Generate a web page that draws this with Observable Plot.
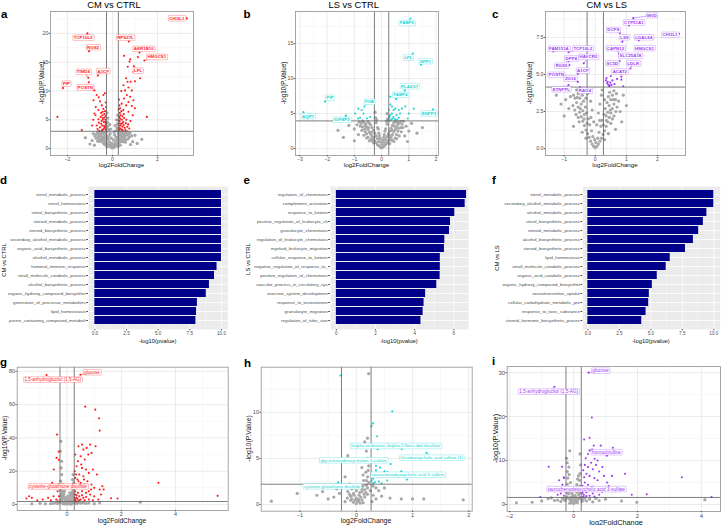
<!DOCTYPE html>
<html><head><meta charset="utf-8">
<script src="https://cdn.jsdelivr.net/npm/d3@7"></script>
<script src="https://cdn.jsdelivr.net/npm/@observablehq/plot@0.6"></script>
<style>
body{margin:0;background:#fff}
#root{position:relative;width:722px;height:525px;overflow:hidden;background:#fff}
</style></head>
<body><div id="root"></div>
<script>
// ---------------- DATA ----------------
// Panel a: CM vs CTRL (genes)
const aGrey = [[0,0.1],[0.05,0.2],[-0.05,0.25],[0.1,0.3],[-0.1,0.35],[0.15,0.5],[-0.15,0.45],[0.2,0.7],[-0.2,0.65],[0.25,0.9],[-0.25,0.95],[0.3,1.1],[-0.3,1.05],[0.35,1.3],[-0.35,1.4],[0.4,1.6],[-0.4,1.65],[0.45,1.9],[-0.45,1.85],[0.5,2.2],[-0.5,2.15],[0.55,2.5],[-0.55,2.45],[0.6,2.8],[-0.6,2.75],[0.65,2.95],[-0.65,2.9],[0.08,0.6],[-0.08,0.7],[0.12,1.0],[-0.12,1.1],[0.18,1.4],[-0.18,1.5],[0.22,1.8],[-0.22,1.9],[0.28,2.2],[-0.28,2.3],[0.33,2.6],[-0.33,2.7],[0.4,2.9],[-0.4,2.95],[0.45,2.5],[-0.45,2.6],[0.38,2.1],[-0.38,2.0],[0.3,1.7],[-0.3,1.8],[0.5,2.8],[-0.5,2.85],[0.7,2.4],[-0.7,2.5],[0.75,2.0],[-0.72,1.8],[0.6,1.5],[-0.6,1.7],[0.5,1.2],[-0.5,1.3],[0.05,1.5],[-0.05,1.8],[0.1,2.4],[-0.1,2.6],[0.15,3.1],[-0.15,3.3],[0.2,3.6],[-0.2,3.9],[0.22,4.3],[-0.22,4.6],[0.18,5.0],[-0.2,5.3],[0.24,5.8],[-0.24,6.2],[0.12,4.0],[-0.12,4.2],[0.25,3.2],[-0.25,3.5],[0.85,2.2],[1.0,2.3],[-0.85,2.6],[0.9,1.2],[-0.9,1.4],[1.1,0.9],[-1.0,0.8],[0.8,0.7],[-0.8,0.6],[1.3,1.6],[-1.2,1.9],[0.02,0.5],[-0.02,0.9],[0.35,0.6],[-0.35,0.7],[0.25,0.4],[-0.25,0.3],[0.42,1.2],[-0.42,1.0],[0.55,1.9],[-0.55,1.6],[0.62,2.3],[-0.62,2.1],[0.68,2.7],[-0.68,2.6],[0.15,2.0],[-0.15,2.2],[0.26,2.7],[-0.26,2.9],[0.35,2.3],[-0.35,2.45],[0.48,1.6],[-0.48,1.45],[0.58,1.1],[-0.58,1.25],[0.7,1.7],[-0.66,1.3],[0.78,2.7],[-0.78,2.2],[0.08,2.9],[-0.08,3.4]];
const aHits = [[3.3,22.6],[-1.11,20],[-1.04,16.9],[0.73,18.6],[1.2,16.7],[1.42,15.3],[0.95,14.3],[-1.07,12.3],[-1.05,11.5],[-0.65,12.7],[-2.2,10.5],[-0.8,10.1],[-2.44,5.5],[-1.36,3.2],[0.52,16.1],[0.79,15.5],[0.76,15.1],[1.13,15.9],[0.68,14.2],[0.93,13.3],[1.23,12.2],[0.61,12.2],[0.67,11.6],[0.81,11.6],[1.0,11.7],[0.49,11],[0.71,10.6],[0.56,10.1],[0.86,10.1],[0.39,10],[0.64,9.3],[0.79,9],[0.52,8.7],[0.93,8.4],[0.71,8.1],[0.41,7.8],[0.61,7.5],[0.86,7.4],[1.0,7],[1.53,5.5],[0.34,7],[0.49,6.7],[0.71,6.4],[0.3,3.2],[0.35,3.5],[0.4,3.3],[0.45,3.8],[0.3,4.0],[0.38,4.3],[0.5,4.1],[0.55,3.6],[0.32,4.8],[0.42,5.0],[0.48,4.6],[0.6,4.4],[0.3,5.5],[0.36,5.8],[0.44,5.6],[0.52,5.3],[0.33,6.2],[0.4,6.5],[0.5,6.0],[0.62,5.0],[0.7,4.2],[0.75,3.5],[0.66,3.8],[0.58,3.2],[0.29,3.6],[0.31,4.4],[0.34,5.2],[0.46,3.2],[0.8,4.8],[0.9,5.8],[0.28,6.8],[0.31,7.5],[0.29,8.5],[-0.7,9.3],[-0.61,8.9],[-0.84,8.4],[-0.55,8.2],[-0.4,9.3],[-0.33,9.6],[-0.47,7.5],[-0.74,7.2],[-0.62,6.7],[-0.43,6.4],[-0.8,6.1],[-0.3,3.3],[-0.35,3.6],[-0.4,3.4],[-0.45,4.0],[-0.3,4.2],[-0.38,4.6],[-0.5,4.3],[-0.55,3.7],[-0.32,5.0],[-0.42,5.3],[-0.48,4.8],[-0.6,4.5],[-0.3,5.7],[-0.36,6.0],[-0.44,5.8],[-0.52,5.5],[-0.33,6.5],[-0.4,6.9],[-0.5,6.2],[-0.62,5.1],[-0.7,4.0],[-0.66,3.4],[-0.58,3.1],[-0.29,3.8],[-0.31,4.6],[-0.34,5.4],[-0.46,3.2],[-0.28,7.2],[-0.3,8.0],[-0.85,5.0],[-0.75,5.8],[-0.9,4.0],[0.27,4.9],[0.37,4.0],[0.43,4.4],[-0.27,4.4],[-0.37,3.9],[-0.43,5.0]];
const aLabels = [["CHI3L1",3.3,22.6,2.86,22.6],["TCP10L2",-1.11,20,-1.3,19.25],["RGS2",-1.04,16.9,-0.86,17.57],["RPS27L",0.73,18.6,0.58,19.25],["AKR1B10",1.2,16.7,1.39,17.3],["HMGCS1",1.42,15.3,1.97,15.9],["LPL",0.95,14.3,1.14,13.5],["TIMD4",-1.07,12.3,-1.29,13.3],["A1CF",-0.65,12.7,-0.41,13.45],["PIP",-2.2,10.5,-2.04,11.25],["POSTN",-0.8,10.1,-1.2,10.6]];

// Panel b: LS vs CTRL (genes)
const bGrey = [[0,0.1],[0.05,0.2],[-0.05,0.2],[0.1,0.35],[-0.1,0.4],[0.15,0.6],[-0.15,0.55],[0.2,0.8],[-0.2,0.85],[0.25,1.1],[-0.25,1.05],[0.3,1.4],[-0.3,1.35],[0.35,1.7],[-0.35,1.75],[0.4,2.0],[-0.4,2.05],[0.45,2.4],[-0.45,2.35],[0.5,2.7],[-0.5,2.75],[0.55,3.0],[-0.55,3.1],[0.6,3.4],[-0.6,3.3],[0.65,3.7],[-0.65,3.75],[0.7,3.9],[-0.7,3.95],[0.1,0.9],[-0.1,1.0],[0.15,1.3],[-0.15,1.4],[0.2,1.7],[-0.2,1.8],[0.25,2.1],[-0.25,2.2],[0.3,2.5],[-0.3,2.6],[0.35,2.9],[-0.35,3.0],[0.4,3.3],[-0.4,3.4],[0.45,3.7],[-0.45,3.6],[0.5,3.9],[-0.5,3.85],[0.55,2.0],[-0.55,2.1],[0.6,2.5],[-0.6,2.4],[0.7,3.0],[-0.7,3.1],[0.75,3.5],[-0.75,3.6],[0.8,3.9],[-0.82,3.8],[0.65,1.8],[-0.65,1.9],[0.5,1.5],[-0.5,1.6],[0.4,1.2],[-0.4,1.3],[0.05,1.2],[-0.05,1.4],[0.1,2.0],[-0.1,2.2],[0.15,2.8],[-0.15,3.0],[0.2,3.5],[-0.2,3.7],[0.22,4.2],[-0.22,4.4],[0.18,3.9],[-0.18,4.1],[0.9,3.2],[-0.9,3.4],[1.0,2.5],[-1.0,2.8],[1.1,3.6],[-1.2,3.3],[0.85,1.8],[-0.85,2.0],[1.3,2.2],[-1.4,1.6],[0.95,1.0],[-1.0,1.1],[1.5,3.0],[-1.6,2.6],[-0.24,5.2],[0.2,5.0],[0.3,0.7],[-0.3,0.8],[0.45,1.0],[-0.45,1.1],[0.02,0.6],[-0.02,0.9],[0.28,1.9],[-0.28,1.6],[0.38,2.6],[-0.38,2.3],[0.48,3.2],[-0.48,3.0],[0.58,3.7],[-0.58,3.5],[0.62,2.9],[-0.62,2.8],[0.72,2.4],[-0.72,2.6],[0.12,2.5],[-0.12,2.8],[0.08,1.6],[-0.08,1.8],[0.35,1.2],[-0.35,1.1],[0.55,1.4],[-0.55,1.5],[0.78,3.0],[-0.78,3.2]];
const bHits = [[1.06,18.6],[1.15,13.6],[1.45,12],[0.85,8.3],[0.53,7.1],[1.89,5.6],[-2.08,6.7],[-2.87,5.2],[-1.31,4.7],[-0.63,6.0],[0.32,6.3],[0.38,6.0],[0.44,5.5],[0.5,5.7],[0.63,5.5],[0.75,5.7],[0.87,6.0],[1.18,5.7],[1.0,5.0],[0.96,4.3],[0.38,5.0],[0.32,4.8],[0.55,4.8],[0.68,5.0],[0.44,4.5],[0.29,4.4],[0.36,4.1],[0.5,4.2],[0.63,4.4],[0.27,5.5],[0.32,7.4],[-0.85,5.7],[-0.97,5.0],[-0.79,4.4],[-0.66,5.0],[-0.42,4.5],[-0.54,4.3],[-0.86,4.3],[-0.73,5.5],[0.3,4.0],[0.4,4.3],[0.28,4.6],[0.58,4.1]];
const bLabels = [["FABP6",1.06,18.6,0.93,17.95],["LPL",1.15,13.6,0.98,13.0],["SPP1",1.45,12,1.61,12.48],["PLA2G7",0.85,8.3,1.03,8.9],["FABP4",0.53,7.1,0.69,7.67],["ENPP2",1.89,5.6,1.74,5.0],["PIP",-2.08,6.7,-1.9,7.24],["AQP7",-2.87,5.2,-2.7,4.62],["IGFBP2",-1.31,4.7,-1.46,4.1],["FGB",-0.63,6.0,-0.44,6.67]];

// Panel c: CM vs LS (genes)
const cGrey = [[0,0.05],[0.05,0.15],[-0.05,0.15],[0.1,0.3],[-0.1,0.3],[0.15,0.5],[-0.15,0.5],[0.2,0.7],[-0.2,0.75],[0.25,0.95],[-0.25,1.0],[0.3,1.2],[-0.3,1.25],[0.35,1.5],[-0.35,1.55],[0.4,1.8],[-0.4,1.85],[0.45,2.1],[-0.45,2.15],[0.5,2.4],[-0.5,2.45],[0.55,2.7],[-0.55,2.8],[0.6,3.0],[-0.6,3.1],[0.65,3.3],[-0.65,3.4],[-0.7,3.6],[0.68,3.7],[0.08,0.7],[-0.08,0.8],[0.12,1.1],[-0.12,1.2],[0.18,1.5],[-0.18,1.6],[0.22,1.9],[-0.22,2.0],[0.28,2.3],[-0.28,2.4],[0.32,2.7],[-0.32,2.8],[0.38,3.1],[-0.38,3.2],[0.42,3.5],[-0.42,3.6],[0.46,3.8],[-0.46,3.9],[0.5,3.3],[-0.5,3.4],[0.35,2.2],[-0.35,2.3],[0.45,2.9],[-0.45,3.0],[0.55,3.6],[-0.55,3.7],[0.6,2.2],[-0.62,2.3],[0.7,2.8],[-0.72,2.9],[0.5,1.7],[-0.52,1.8],[0.05,1.6],[-0.05,1.8],[0.1,2.4],[-0.1,2.6],[0.15,3.0],[-0.15,3.2],[0.2,3.6],[-0.2,3.8],[0.22,3.95],[-0.25,3.7],[0.75,3.2],[-0.8,3.5],[0.8,2.5],[-0.85,2.7],[-0.95,3.3],[-1.1,3.0],[0.9,3.6],[-1.0,2.2],[0.85,1.8],[0.65,1.3],[-0.7,1.5],[1.0,2.9],[-1.25,3.6],[0.6,3.9],[-0.6,3.95],[0.3,0.6],[-0.3,0.7],[0.42,1.0],[-0.42,1.1],[0.02,0.4],[-0.02,0.6],[0.26,1.6],[-0.26,1.7],[0.36,1.9],[-0.36,2.0],[0.48,2.6],[-0.48,2.7],[0.58,3.3],[-0.58,3.45],[0.4,2.45],[-0.4,2.55],[0.3,3.3],[-0.3,3.4],[0.14,1.9],[-0.14,2.1],[0.55,2.0],[-0.55,2.1],[0.66,2.5],[-0.66,2.6]];
const cHits = [[1.22,8.8],[1.08,8.3],[0.79,7.8],[0.87,7.2],[1.4,7.3],[2.69,7.74],[1.34,6.7],[0.76,6.4],[0.78,6.2],[0.78,5.9],[1.13,5.4],[0.84,4.85],[-1.35,6.55],[-0.86,6.5],[-0.86,5.9],[-0.37,5.75],[-0.83,5.64],[-0.56,5.03],[-0.98,4.85],[-0.56,4.5],[-0.86,4.29],[-0.49,4.13],[0.34,4.6],[0.38,4.4],[0.42,4.3],[0.46,4.25],[0.48,4.45],[0.52,4.3],[0.36,4.75],[0.55,4.6],[0.62,4.35],[0.7,4.7],[0.84,4.65],[0.9,4.2],[0.45,4.2],[0.4,4.5],[0.98,5.2],[0.5,4.9]];
const cLabels = [["MVD",1.22,8.8,1.82,9.0],["CYP51A1",1.08,8.3,1.24,8.5],["DCPS",0.79,7.8,0.58,8.0],["LSS",0.87,7.2,0.94,7.5],["LGALS4",1.4,7.3,1.56,7.5],["CHI3L1",2.69,7.74,2.4,7.67],["HMGCS1",1.34,6.7,1.58,6.77],["CAPN12",0.76,6.4,0.65,6.77],["SLC25A18",0.78,6.2,1.13,6.25],["SC5D",0.78,5.9,0.55,5.75],["LDLR",1.13,5.4,1.22,5.75],["ACAT2",0.84,4.85,0.79,5.2],["FAM151A",-1.35,6.55,-1.17,6.73],["TCP10L2",-0.86,6.5,-0.4,6.75],["DPP4",-0.86,5.9,-0.77,6.07],["HAVCR2",-0.37,5.75,-0.22,6.18],["RGS5",-0.83,5.64,-1.09,5.58],["A1CF",-0.56,5.03,-0.4,5.26],["POSTN",-0.98,4.85,-1.25,4.97],["ZG16",-0.56,4.5,-0.8,4.72],["ETNPPL",-0.86,4.29,-1.09,4.0],["RAI14",-0.49,4.13,-0.33,3.9]];

// Panels d-f: enrichment bars
const dTerms = ["sterol_metabolic_process","sterol_homeostasis","sterol_biosynthetic_process","steroid_metabolic_process","steroid_biosynthetic_process","secondary_alcohol_metabolic_process","organic_acid_biosynthetic_process","alcohol_metabolic_process","humoral_immune_response","small_molecule_catabolic_process","alcohol_biosynthetic_process","organic_hydroxy_compound_biosynthet","generation_of_precursor_metabolites","lipid_homeostasis","purine_containing_compound_metaboli"];
const dValues = [10,10,10,10,10,10,10,10,9.65,9.45,9.05,8.8,8.1,8.03,7.98];
const eTerms = ["regulation_of_chemotaxis","complement_activation","response_to_ketone","positive_regulation_of_leukocyte_ch","granulocyte_chemotaxis","regulation_of_leukocyte_chemotaxis","myeloid_leukocyte_migration","cellular_response_to_ketone","negative_regulation_of_response_to_","positive_regulation_of_chemotaxis","vascular_process_in_circulatory_sys","exocrine_system_development","response_to_testosterone","granulocyte_migration","regulation_of_tube_size"];
const eValues = [6.65,6.58,6.05,5.83,5.78,5.54,5.52,5.31,5.31,5.3,5.13,4.56,4.48,4.43,4.32];
const fTerms = ["sterol_metabolic_process","secondary_alcohol_metabolic_process","alcohol_metabolic_process","sterol_biosynthetic_process","steroid_metabolic_process","alcohol_biosynthetic_process","steroid_biosynthetic_process","lipid_homeostasis","small_molecule_catabolic_process","organic_acid_catabolic_process","organic_hydroxy_compound_biosynthet","neurotransmitter_uptake","cellular_carbohydrate_metabolic_pro","response_to_toxic_substance","steroid_hormone_biosynthetic_proces"];
const fValues = [10,10,9.45,9.17,8.8,8.38,7.75,6.54,6.22,5.51,5.12,4.88,4.83,4.62,4.28];

// Panel g: CM vs CTRL (metabolites)
const gGrey = [[0,0.3],[0.05,0.8],[-0.05,0.6],[0.1,1.2],[-0.1,1.0],[0.15,1.6],[-0.15,1.5],[0.2,2.0],[-0.2,2.2],[0.25,2.5],[-0.25,2.8],[0.1,3],[-0.1,3.5],[0.15,4.5],[-0.15,5],[0.2,6],[-0.2,6.5],[0.05,2],[-0.05,2.5],[0.12,5.5],[-0.12,6],[0.18,7.5],[-0.18,8],[0.22,9],[-0.22,10],[0.24,12],[-0.24,14],[0.2,15],[-0.2,18],[-0.22,22],[-0.2,26],[-0.25,32],[-0.23,38],[0.22,18],[0.24,13],[0.15,10],[-0.15,12],[0.3,1.0],[-0.3,1.2],[0.35,0.5],[-0.35,0.6],[0.4,1.1],[-0.4,0.9],[0.5,0.8],[-0.5,0.7],[0.6,1.0],[-0.6,0.5],[0.7,0.6],[0.8,0.9],[-0.8,0.4],[1.0,0.5],[-1.0,0.7],[-1.3,0.4],[2.7,1.4],[1.2,1.0],[-0.05,4],[0.05,3.5],[0,1.5],[0.08,0.4],[-0.08,0.3],[0.2,4],[-0.2,4.5],[0.24,7],[-0.24,8.5],[0.1,7],[-0.1,8],[0.03,5],[-0.02,1.2],[0.15,0.2],[-0.15,0.4],[0.18,3],[-0.18,3.4],[0.22,5],[-0.22,5.5],[0.08,2.5],[-0.08,4.2],[0.13,6.5],[-0.13,7],[0.25,10],[-0.25,11],[0.2,1],[-0.2,1.2]];
const gHits = [[0.49,78],[-0.76,77.8],[0.67,58.8],[1.04,57],[1.18,51.8],[1.2,44.4],[-0.37,42],[3.37,13],[5.55,5.2],[1.62,3.8],[1.86,3.6],[-1.5,3.6],[-1.4,5],[-1.3,4],[-0.49,21],[-0.39,28],[-0.31,31.8],[-0.3,26.8],[0.55,36],[0.42,35],[0.6,33],[0.72,34],[0.85,36],[0.78,30],[0.9,31],[1.05,35],[0.5,29],[0.65,27],[0.4,26],[0.55,22],[0.7,21],[0.35,23],[0.45,18],[0.6,17],[0.8,19],[0.95,21],[1.1,18],[0.38,15],[0.5,13],[0.65,12],[0.75,14],[0.9,12],[1.0,10],[1.2,9],[1.35,9],[0.4,10],[0.55,8],[0.7,7],[0.85,6],[1.0,5],[0.45,5],[0.3,6],[0.35,4],[0.5,3],[0.65,2.5],[0.8,3],[0.3,2.2],[0.4,2],[0.6,4],[0.32,12],[0.33,18],[0.3,8],[1.25,6],[1.15,3],[0.95,2.5],[0.52,24],[0.62,15],[0.88,9],[0.3,30],[0.28,20],[-0.35,8],[-0.5,5],[-0.4,3],[-0.6,2.5],[-0.32,12],[-0.45,10],[-0.7,4],[-0.9,3],[-1.1,2.5],[-0.55,13],[-0.3,5],[-0.35,2],[0.3,3],[0.35,5.5],[0.4,7],[0.3,10],[0.45,2.5],[0.38,3.5],[0.55,5.5],[0.33,1.8],[0.7,4.5],[0.28,4],[0.5,10.5],[0.42,14],[0.3,16],[0.6,11],[0.8,8],[1.3,11],[0.32,11.5]];
const gLabels = [["glucose",0.49,78,0.92,79.4],["1,5-anhydroglucitol (1,5-AG)",-0.76,77.8,-0.53,75],["cysteine-glutathione disulfide",0.32,11.5,-0.33,10.8]];

// Panel h: LS vs CTRL (metabolites)
const hGrey = [[0,0.1],[0.05,0.3],[-0.05,0.25],[0.1,0.5],[-0.1,0.45],[0.15,0.8],[-0.1,0.9],[0.2,1.1],[0.0,0.7],[0.05,1.0],[-0.05,1.2],[0.1,1.4],[0.15,1.6],[0.2,1.8],[0.0,1.5],[-0.08,1.7],[0.12,2.0],[0.18,2.1],[0.22,2.4],[0.2,3.0],[0.17,3.5],[0.22,4.2],[0.2,5.0],[0.18,5.8],[0.22,6.5],[0.2,7.2],[0.15,6.8],[0.1,4.0],[0.12,3.2],[-0.15,5.3],[0.22,14.2],[-0.2,3.0],[-0.25,2.0],[0.25,1.5],[0.3,1.0],[0.35,0.6],[0.4,1.5],[0.45,0.9],[0.5,1.8],[0.6,0.7],[0.8,0.6],[1.0,0.6],[1.2,0.6],[1.9,0.5],[-0.3,1.2],[-0.4,0.8],[-0.5,0.6],[-0.7,1.0],[-0.6,1.4],[-1.05,1.2],[-1.51,0.36],[-0.2,0.3],[0.28,0.3],[0.12,0.2],[-0.15,1.4],[0.08,1.8],[0.03,2.0],[0.3,2.0],[0.35,1.8],[-0.35,1.7],[0.02,0.4],[-0.02,0.5],[0.07,0.15],[0.17,1.3],[0.13,2.6],[0.21,3.7],[-0.12,2.2],[-0.08,0.6],[0.08,0.8],[-0.04,1.0],[0.14,1.1],[0.06,1.3],[-0.12,1.1],[0.1,1.7],[0.18,2.6],[0.04,0.55],[-0.16,0.7]];
const hHits = [[0.64,10.1],[0.3,8.8],[0.27,8.5],[0.37,7.4],[0.81,6.0],[0.38,6.0],[1.25,5.6],[0.61,4.4],[0.3,4.9],[0.35,4.2],[0.42,4.0],[0.5,3.6],[0.55,3.5],[0.8,3.6],[0.75,3.0],[0.55,2.6],[0.4,2.5],[0.3,2.8],[0.28,3.2],[0.33,2.4],[0.45,2.3],[0.65,3.1],[0.3,2.3],[-0.32,2.4],[-0.28,14.0],[0.27,2.6],[0.9,2.7],[0.35,3.7],[0.48,4.6]];
const hLabels = [["5alpha-androstan-3alpha,17beta-diol disulfate",0.81,6.0,0.70,6.34],["Ursodeoxycholic acid sulfate (1)",1.25,5.6,1.34,5.07],["glycochenodeoxycholate 3-sulfate",0.3,4.9,-0.05,4.78],["taurochenodeoxycholic acid 3-sulfate",0.55,3.5,0.92,3.22],["cysteine-glutathione disulfide",-0.32,2.4,-0.43,1.96]];

// Panel i: CM vs LS (metabolites)
const iGrey = [[0,0.2],[0.05,0.5],[-0.05,0.4],[0.1,0.8],[-0.1,0.9],[0.15,1.2],[-0.15,1.3],[0.2,1.6],[-0.2,1.7],[0.25,1.3],[-0.25,1.4],[0.3,1.0],[-0.3,1.1],[0.4,0.8],[-0.4,0.7],[0.5,1.2],[-0.5,1.0],[0.6,0.6],[-0.6,0.9],[0.05,2.0],[-0.05,2.4],[0.1,2.8],[-0.1,3.0],[0.15,3.4],[-0.15,3.8],[0.2,4.2],[-0.2,4.6],[0.18,5.5],[-0.18,6],[0.2,7],[-0.2,7.5],[-0.15,8.5],[-0.2,9.5],[-0.22,10.5],[0.2,11.5],[-0.12,12.2],[0.22,9],[0.15,6.5],[-0.1,5],[0.1,4.5],[0.8,0.9],[1.0,1.2],[-0.8,1.3],[-1.0,0.8],[-1.3,0.5],[-1.79,0.38],[1.98,0.5],[4.11,1.1],[1.5,0.8],[0.7,1.4],[-0.7,1.5],[0.35,1.5],[-0.35,1.4],[0.0,1.0],[0.08,1.5],[-0.08,1.6],[0.12,0.4],[-0.12,0.3],[0.02,3.2],[-0.02,2.0],[0.2,2.6],[-0.2,2.8],[0.12,5.8],[-0.14,6.8],[0.06,0.9],[-0.06,1.2],[0.16,2.2],[-0.16,2.4],[0.04,1.6],[-0.22,3.4],[0.22,3.2],[0.26,0.7],[-0.26,0.9]];
const iHits = [[0.47,30],[-0.6,26.8],[0.57,19.8],[0.33,14.8],[0.5,15.2],[0.63,13.4],[0.85,13.4],[1.23,12.9],[0.68,11.5],[1.04,11.1],[0.66,10.4],[1.61,7.0],[3.39,6.2],[4.32,1.7],[2.29,2.3],[1.82,2.2],[-0.78,8.6],[-0.36,8.6],[-0.31,6.2],[-1.04,1.7],[-0.73,3.2],[-0.52,3.9],[0.5,12.3],[0.35,9],[0.45,8.5],[0.55,9.5],[0.6,8],[0.7,9],[0.8,7.5],[0.9,8.5],[0.4,7],[0.5,6.5],[0.65,6],[0.75,5.5],[0.95,6.5],[1.05,5],[1.2,6.5],[0.35,5],[0.45,4.5],[0.55,4],[0.7,3.8],[0.85,3.5],[1.0,3.2],[0.3,3.5],[0.4,2.8],[0.6,2.5],[0.8,2.2],[0.32,2.2],[0.5,2.0],[1.1,4.2],[1.3,3],[0.38,10.5],[0.33,6.2],[0.28,4.2],[0.3,7.8],[0.45,11.5],[0.58,12.5],[0.6,4],[-0.3,3],[-0.4,2.5],[-0.35,4.5],[-0.3,6],[-0.5,2.2],[-0.45,5.5],[-0.6,3],[-0.3,2],[0.3,1.8],[0.4,1.9],[0.65,1.8],[0.9,2.9],[0.28,2.6],[0.75,10]];
const iLabels = [["glucose",0.47,30,0.84,30.45],["1,5-anhydroglucitol (1,5-AG)",-0.6,26.8,-0.78,25.7],["homocitrulline",0.5,12.3,1.03,11.9],["taurochenodeoxycholic acid 3-sulfate",0.6,4.0,0.4,3.5]];

// ---------------- RENDER ----------------
const FONT = '"Liberation Sans", Arial, Helvetica, sans-serif';
const NS = "http://www.w3.org/2000/svg";
const root = document.getElementById("root");
function place(el, left, top){ el.style.position="absolute"; el.style.left=left+"px"; el.style.top=top+"px"; root.appendChild(el); return el; }

// draw ggrepel-like boxes behind the label texts (found by their content)
function boxLabels(svg, names, stroke){
  const set = new Set(names);
  const texts = Array.from(svg.querySelectorAll("text")).filter(t => set.has(t.textContent));
  texts.forEach(t=>{
    let b;
    try { b = t.getBBox(); } catch(e) { return; }
    if (!b || !b.width) return;
    const r = document.createElementNS(NS,"rect");
    r.setAttribute("x", b.x-0.9); r.setAttribute("y", b.y-0.3);
    r.setAttribute("width", b.width+1.8); r.setAttribute("height", b.height+0.6);
    r.setAttribute("rx", 0.7); r.setAttribute("fill","white");
    r.setAttribute("stroke", stroke); r.setAttribute("stroke-opacity", 0.55); r.setAttribute("stroke-width", 0.5);
    const tr = t.getAttribute("transform"); if (tr) r.setAttribute("transform", tr);
    t.parentNode.insertBefore(r, t);
  });
}

function volcano(o){
  const labels = o.labels.map(([name,x,y,lx,ly])=>({name,x,y,lx,ly}));
  const gridC = {strokeOpacity:1};
  const svg = Plot.plot({
    width:o.w, height:o.h, marginLeft:o.ml, marginRight:o.mr, marginTop:o.mt, marginBottom:o.mb,
    x:{domain:o.xd}, y:{domain:o.yd},
    style:{fontFamily:FONT, background:"transparent", overflow:"visible"},
    marks:[
      Plot.gridX(o.xm,{...gridC, stroke:"#f0f0f0", strokeWidth:0.45}),
      Plot.gridY(o.ym,{...gridC, stroke:"#f0f0f0", strokeWidth:0.45}),
      Plot.gridX(o.xt,{...gridC, stroke:"#e4e4e4", strokeWidth:0.7}),
      Plot.gridY(o.yt,{...gridC, stroke:"#e4e4e4", strokeWidth:0.7}),
      Plot.dot(o.grey,{x:d=>d[0], y:d=>d[1], r:1.6, fill:"#a8a8a8"}),
      Plot.dot(o.hits,{x:d=>d[0], y:d=>d[1], r:1.05, fill:o.color}),
      Plot.ruleX(o.vl,{stroke:"#5e5e5e", strokeWidth:0.8}),
      Plot.ruleY([o.hl],{stroke:"#5e5e5e", strokeWidth:0.8}),
      Plot.link(labels,{x1:"x", y1:"y", x2:"lx", y2:"ly", stroke:o.color, strokeWidth:0.45}),
      Plot.text(labels,{x:"lx", y:"ly", text:"name", fill:o.color, fontSize:o.lfs, fontWeight:o.bold?"bold":"normal"}),
      Plot.frame({stroke:"#9d9d9d", strokeWidth:0.9}),
      Plot.axisX(o.xt,{tickSize:1.3, tickPadding:0.7, fontSize:o.tfs, color:"#4d4d4d", tickFormat:o.xf, label:null}),
      Plot.axisY(o.yt,{tickSize:1.3, tickPadding:0.8, fontSize:o.tfs, color:"#4d4d4d", tickFormat:o.yf, label:null})
    ]
  });
  place(svg, o.left, o.top);
  boxLabels(svg, labels.map(d=>d.name), o.color);
}

function bars(o){
  const data = o.terms.map((t,i)=>({t, v:o.vals[i]}));
  const svg = Plot.plot({
    width:o.w, height:o.h, marginLeft:o.ml, marginRight:o.mr, marginTop:o.mt, marginBottom:o.mb,
    x:{domain:o.xd, label:null}, y:{domain:o.terms, paddingInner:0.1, paddingOuter:0.04, label:null},
    style:{fontFamily:FONT, background:"transparent", overflow:"visible"},
    marks:[
      Plot.frame({fill:"#ebebeb", stroke:null}),
      Plot.gridX(o.xm,{stroke:"#fff", strokeOpacity:1, strokeWidth:0.35}),
      Plot.gridX(o.xt,{stroke:"#fff", strokeOpacity:1, strokeWidth:0.75}),
      Plot.gridY({stroke:"#fff", strokeOpacity:1, strokeWidth:0.75}),
      Plot.barX(data,{x:"v", y:"t", fill:"#00008b"}),
      Plot.axisX(o.xt,{tickSize:1.3, tickPadding:0.6, fontSize:4.6, color:"#4d4d4d", tickFormat:o.xf, label:null}),
      Plot.axisY({tickSize:1.8, tickPadding:1, fontSize:4.4, color:"#4d4d4d", label:null})
    ]
  });
  place(svg, o.left, o.top);
}

const RED = "#ff1a1a", CYAN = "#17d4d4", PURPLE = "#9b3bf2";
const f1 = d3.format(".1f");

volcano({left:0, top:0, w:240, h:175, ml:50, mr:47, mt:11, mb:20, xd:[-2.75,3.6], yd:[-1.2,23.8],
  xt:[-2,0,2], xm:[-1,1,3], yt:[0,5,10,15,20], ym:[2.5,7.5,12.5,17.5,22.5],
  grey:aGrey, hits:aHits, labels:aLabels, color:RED, vl:[-0.263,0.263], hl:3, lfs:4.4, bold:true, tfs:5.2});
volcano({left:240, top:0, w:240, h:175, ml:55, mr:42, mt:11, mb:20, xd:[-3.16,2.09], yd:[-1,19.6],
  xt:[-3,-2,-1,0,1,2], xm:[-2.5,-1.5,-0.5,0.5,1.5], yt:[0,5,10,15], ym:[2.5,7.5,12.5,17.5],
  grey:bGrey, hits:bHits, labels:bLabels, color:CYAN, vl:[-0.263,0.263], hl:3.95, lfs:4.4, bold:true, tfs:5.2});
volcano({left:480, top:0, w:242, h:175, ml:65, mr:37, mt:11, mb:20, xd:[-1.6,2.9], yd:[-0.47,9.25],
  xt:[-1,0,1,2], xm:[-1.5,-0.5,0.5,1.5,2.5], yt:[0,2.5,5,7.5], ym:[1.25,3.75,6.25,8.75], yf:f1,
  grey:cGrey, hits:cHits, labels:cLabels, color:PURPLE, vl:[-0.263,0.263], hl:4.15, lfs:4.4, bold:true, tfs:5.2});

bars({left:0, top:175, w:240, h:175, ml:88, mr:12.7, mt:11, mb:21, xd:[-0.5,10.5], xt:[0,2.5,5,7.5,10], xm:[1.25,3.75,6.25,8.75], xf:f1, terms:dTerms, vals:dValues});
bars({left:240, top:175, w:240, h:175, ml:90, mr:12, mt:11, mb:21, xd:[-0.3,6.75], xt:[0,2,4,6], xm:[1,3,5], terms:eTerms, vals:eValues});
bars({left:480, top:175, w:242, h:175, ml:102.3, mr:2.4, mt:11, mb:21, xd:[-0.4,10.5], xt:[0,2.5,5,7.5,10], xm:[1.25,3.75,6.25,8.75], xf:f1, terms:fTerms, vals:fValues});

volcano({left:0, top:350, w:240, h:175, ml:16.7, mr:12.3, mt:16.7, mb:15, xd:[-1.84,5.94], yd:[-3.6,82.5],
  xt:[0,2,4], xm:[-1,1,3,5], yt:[0,20,40,60,80], ym:[10,30,50,70],
  grey:gGrey, hits:gHits, labels:gLabels, color:RED, vl:[-0.263,0.263], hl:1.8, lfs:4.5, bold:false, tfs:5.4});
volcano({left:240, top:350, w:240, h:175, ml:20.7, mr:8.3, mt:16.7, mb:14.3, xd:[-1.69,2.06], yd:[-0.73,14.9],
  xt:[-1,0,1,2], xm:[-1.5,-0.5,0.5,1.5], yt:[0,5,10], ym:[2.5,7.5,12.5],
  grey:hGrey, hits:hHits, labels:hLabels, color:CYAN, vl:[-0.263,0.263], hl:2.2, lfs:4.4, bold:false, tfs:5.6});
volcano({left:480, top:350, w:242, h:175, ml:26.7, mr:2, mt:16, mb:14, xd:[-2.08,4.6], yd:[-1.6,31.4],
  xt:[-2,0,2,4], xm:[-1,1,3], yt:[0,10,20,30], ym:[5,15,25],
  grey:iGrey, hits:iHits, labels:iLabels, color:PURPLE, vl:[-0.24,0.24], hl:1.6, lfs:4.7, bold:false, tfs:6});

// ---------------- TEXT OVERLAY ----------------
const ov = d3.select(root).append("svg").attr("width",722).attr("height",525)
  .style("position","absolute").style("left","0px").style("top","0px").style("pointer-events","none")
  .style("font-family", FONT);
function txt(s, x, y, size, opt={}){
  const t = ov.append("text").text(s).attr("font-size", size).attr("fill", opt.fill || "#000")
    .attr("text-anchor", opt.anchor || "middle").attr("font-weight", opt.bold ? "bold" : "normal");
  if (opt.rotate) t.attr("transform", `translate(${x},${y}) rotate(-90)`).attr("dy","0.35em");
  else t.attr("x", x).attr("y", y);
}
const titles = [["CM vs CTRL",114,7.8],["LS vs CTRL",353.7,7.8],["CM vs LS",606.7,7.8]];
titles.forEach(([s,x,y])=>txt(s,x,y,9.4));
const letters = [["a",1,18.3],["b",243.5,18.3],["c",492,18.3],["d",0,183.5],["e",243.5,184.3],["f",492,184.3],["g",0,366],["h",244,366.7],["i",492,365]];
letters.forEach(([s,x,y])=>txt(s,x,y,11.5,{bold:true,anchor:"start"}));
const xTitles = [["log2FoldChange",121.5,167.3,6.2],["log2FoldChange",366.5,167.3,6.2],["log2FoldChange",615,167.3,6.2],
  ["-log10(pvalue)",157.6,342.5,5.9],["-log10(pvalue)",399,342.5,5.9],["-log10(pvalue)",651,342.5,5.9],
  ["log2FoldChange",122,523,6.6],["log2FoldChange",366,523,6.9],["log2FoldChange",616,524.5,7.3]];
xTitles.forEach(([s,x,y,f])=>txt(s,x,y,f,{fill:"#111"}));
const yTitles = [["-log10(P.Value)",41.7,83,6.3],["-log10(P.Value)",283.3,83,6.3],["-log10(P.Value)",530,83,6.3],
  ["CM vs CTRL",4,260,5.9],["LS vs CTRL",248.3,259,5.9],["CM vs LS",496.7,258,5.9],
  ["-log10(P.Value)",4.5,438,6.6],["-log10(P.Value)",248.3,438.5,6.9],["-log10(P.Value)",495,438.5,7.3]];
yTitles.forEach(([s,x,y,f])=>txt(s,x,y,f,{fill:"#111",rotate:true}));
</script>
</body></html>
